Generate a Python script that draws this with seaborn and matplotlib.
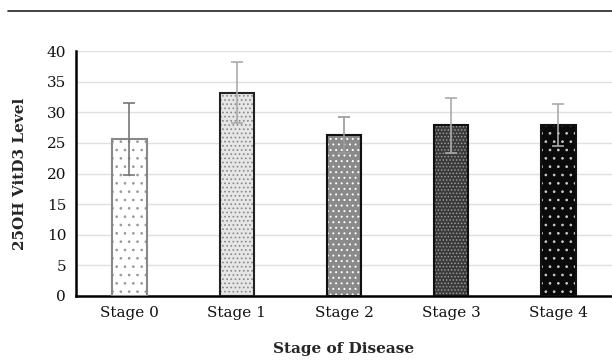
import matplotlib
matplotlib.use('Agg')
import matplotlib.pyplot as plt
import seaborn as sns
import pandas as pd
from matplotlib.patches import Rectangle
from matplotlib.lines import Line2D

stages = ['Stage 0', 'Stage 1', 'Stage 2', 'Stage 3', 'Stage 4']
means = [25.7, 33.2, 26.3, 27.9, 27.9]
sds = [5.9, 5.0, 2.9, 4.5, 3.4]

face_colors = ['#ffffff', '#e6e6e6', '#8a8a8a', '#3a3a3a', '#0a0a0a']
dot_colors = ['#999999', '#888888', '#ffffff', '#999999', '#cccccc']
hatches = ['..', '....', '...', '.....', '..']
edge_colors = ['#888888', '#222222', '#111111', '#111111', '#111111']
err_colors = ['#777777', '#aaaaaa', '#999999', '#aaaaaa', '#aaaaaa']

sns.set_style('white')
plt.rcParams['font.family'] = ['DejaVu Serif']
plt.rcParams['hatch.linewidth'] = 0.7

df = pd.DataFrame({'stage': stages, 'level': means})

fig = plt.figure(figsize=(6.12, 3.63), dpi=100)
ax = fig.add_axes([0.124, 0.185, 0.876, 0.674])

sns.barplot(data=df, x='stage', y='level', ax=ax, width=0.32, color='white')

# dotted fills: hatch colour comes from the edge colour, so draw outline separately
for i, patch in enumerate(ax.patches):
    patch.set_facecolor(face_colors[i])
    patch.set_hatch(hatches[i])
    patch.set_edgecolor(dot_colors[i])
    patch.set_linewidth(0)
    outline = Rectangle((patch.get_x(), patch.get_y()), patch.get_width(), patch.get_height(),
                        fill=False, edgecolor=edge_colors[i], linewidth=1.5, zorder=3)
    ax.add_patch(outline)

for i in range(len(stages)):
    ax.errorbar(i, means[i], yerr=sds[i], color=err_colors[i], capsize=4,
                elinewidth=1.2, capthick=1.2, zorder=4)

ax.set_xlim(-0.5, 4.5)
ax.set_ylim(0, 40)
ax.set_yticks(range(0, 41, 5))
ax.yaxis.grid(True, color='#e0e0e0', linewidth=1)
ax.set_axisbelow(True)
ax.tick_params(axis='both', length=0, labelsize=11, colors='#111111', pad=7)
for side in ['top', 'right']:
    ax.spines[side].set_visible(False)
for side in ['left', 'bottom']:
    ax.spines[side].set_color('black')
    ax.spines[side].set_linewidth(1.8)

ax.set_xlabel('Stage of Disease', fontsize=11, fontweight='bold', labelpad=16)
ax.set_ylabel('25OH VitD3 Level', fontsize=11, fontweight='bold', labelpad=14)

fig.add_artist(Line2D([0.013, 1.0], [0.97, 0.97], color='#222222', linewidth=1.2))

fig.savefig('out.png', dpi=100)
